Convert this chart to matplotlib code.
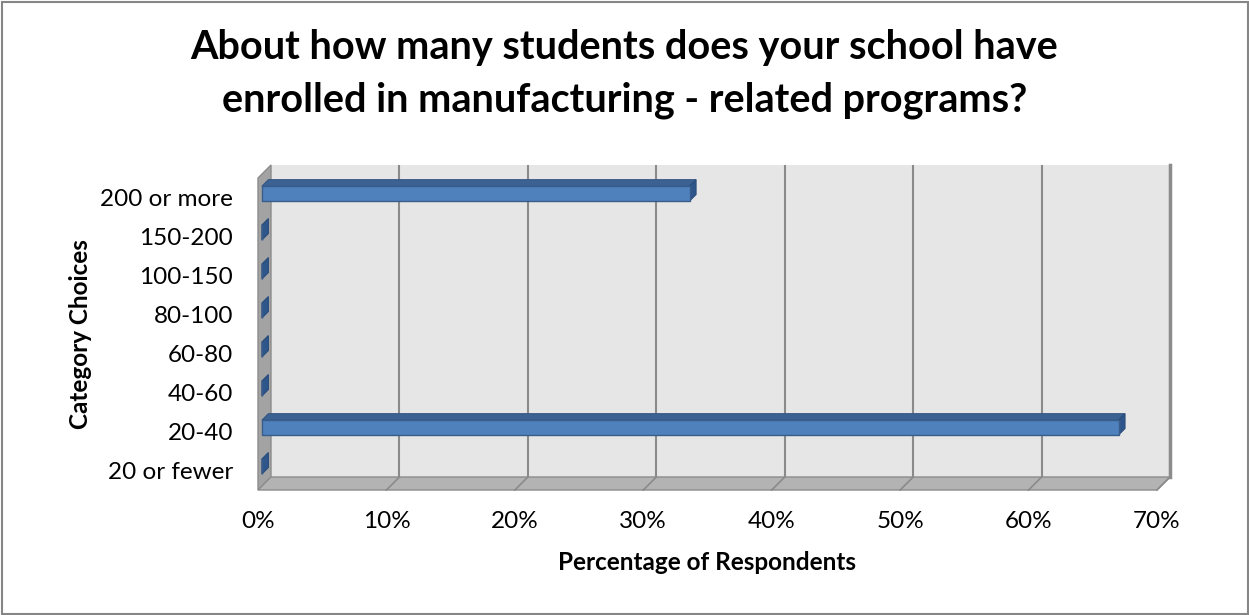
import matplotlib
matplotlib.use("Agg")
import matplotlib.pyplot as plt
from matplotlib.patches import Polygon, Rectangle

# Survey results: share of respondents per enrollment bracket
categories = ["20 or fewer", "20-40", "40-60", "60-80", "80-100",
              "100-150", "150-200", "200 or more"]
percentages = [0.0, 66.7, 0.0, 0.0, 0.0, 0.0, 0.0, 33.3]
x_ticks = [0, 10, 20, 30, 40, 50, 60, 70]
x_tick_labels = [f"{t}%" for t in x_ticks]

title_lines = ["About how many students does your school have",
               "enrolled in manufacturing - related programs?"]
x_label = "Percentage of Respondents"
y_label = "Category Choices"

FONT = ["Lato", "DejaVu Sans"]
plt.rcParams["font.family"] = FONT

W, H = 1249, 615
fig = plt.figure(figsize=(W / 100, H / 100), dpi=100)

# front plane of the plot box, in pixels
left, right, bottom, top = 258, 1157, 490, 178
ax = fig.add_axes([left / W, 1 - bottom / H, (right - left) / W, (bottom - top) / H])
xmax = x_ticks[-1]
n = len(categories)
ax.set_xlim(0, xmax)
ax.set_ylim(-0.5, n - 0.5)
for s in ax.spines.values():
    s.set_visible(False)
ax.patch.set_visible(False)

# depth of the pseudo-3D box, converted to data units
depth_px = 13
DX = depth_px / ((right - left) / xmax)
DY = depth_px / ((bottom - top) / n)


def P(x, y, d):
    return (x + d * DX, y + d * DY)


def poly(pts, **kw):
    p = Polygon([P(*q) for q in pts], closed=True, clip_on=False, **kw)
    ax.add_patch(p)
    return p


y0, y1 = -0.5, n - 0.5
# back wall
poly([(0, y0, 1), (xmax, y0, 1), (xmax, y1, 1), (0, y1, 1)],
     facecolor="#e6e6e6", edgecolor="none", zorder=1)
# left side wall
poly([(0, y0, 0), (0, y0, 1), (0, y1, 1), (0, y1, 0)],
     facecolor="#a3a3a3", edgecolor="#8c8c8c", lw=1.0, zorder=2)
# floor
poly([(0, y0, 0), (xmax, y0, 0), (xmax, y0, 1), (0, y0, 1)],
     facecolor="#b3b3b3", edgecolor="#8c8c8c", lw=1.0, zorder=2)

grid_c = "#8a8a8a"
for t in x_ticks[1:]:
    (a, b), (c, d) = P(t, y0, 1), P(t, y1, 1)
    ax.plot([a, c], [b, d], color=grid_c, lw=1.5, zorder=1.5, clip_on=False,
            solid_capstyle="butt")
    (a, b), (c, d) = P(t, y0, 0), P(t, y0, 1)
    ax.plot([a, c], [b, d], color=grid_c, lw=1.2, zorder=2.5, clip_on=False)
# right edge of back wall
(a, b), (c, d) = P(xmax, y0, 1), P(xmax, y1, 1)
ax.plot([a, c], [b, d], color="#8c8c8c", lw=2.5, zorder=2.6, clip_on=False)

# bars
h = 0.38
d0, d1 = 0.3, 0.8
for i, v in enumerate(percentages):
    lo, hi = i - h / 2, i + h / 2
    poly([(0, hi, d0), (v, hi, d0), (v, hi, d1), (0, hi, d1)],
         facecolor="#3b6293", edgecolor="#345784", lw=0.8, zorder=5)
    poly([(v, lo, d0), (v, hi, d0), (v, hi, d1), (v, lo, d1)],
         facecolor="#2f568a", edgecolor="#2a4d7c", lw=0.8, zorder=5)
    poly([(0, lo, d0), (v, lo, d0), (v, hi, d0), (0, hi, d0)],
         facecolor="#4f81bd", edgecolor="#385d8a", lw=1.0, zorder=6)

ax.set_xticks(x_ticks, x_tick_labels)
ax.set_yticks(range(n), categories)
ax.tick_params(axis="both", length=0, labelsize=17.5, colors="black")
ax.tick_params(axis="x", pad=15)
ax.tick_params(axis="y", pad=18)

ax.set_xlabel(x_label, fontsize=17.5, fontweight="bold", labelpad=14)
ax.set_ylabel(y_label, fontsize=17.5, fontweight="bold", labelpad=6)

fig.text(624.5 / W, 1 - 48 / H, title_lines[0], ha="center", va="center",
         fontsize=28.5, fontweight="bold")
fig.text(624.5 / W, 1 - 100 / H, title_lines[1], ha="center", va="center",
         fontsize=28.5, fontweight="bold")

# chart border
fig.add_artist(Rectangle((1.5 / W, 1.5 / H), (W - 3) / W, (H - 3) / H,
                         transform=fig.transFigure, fill=False,
                         edgecolor="#868686", lw=1.5))

fig.savefig("out.png", dpi=100, facecolor="white")
